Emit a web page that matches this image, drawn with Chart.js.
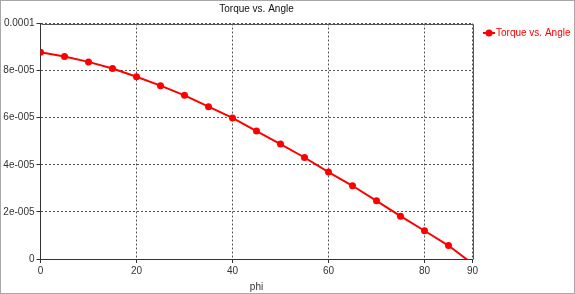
<!DOCTYPE html>
<html>
<head>
<meta charset="utf-8">
<script src="https://cdn.jsdelivr.net/npm/chart.js@4/dist/chart.umd.min.js"></script>
<style>
html,body{margin:0;padding:0;background:#fff;}
#wrap{width:575px;height:294px;box-sizing:border-box;border:1px solid #a8a8a8;background:#fff;}
canvas{display:block;}
</style>
</head>
<body>
<div id="wrap"><canvas id="c" width="573" height="292"></canvas></div>
<script>
const chartTitle = 'Torque vs. Angle';
const seriesName = 'Torque vs. Angle';
const xAxisTitle = 'phi';
const phi = [0,5,10,15,20,25,30,35,40,45,50,55,60,65,70,75,80,85,90];
const torque = [8.78e-5,8.60e-5,8.37e-5,8.09e-5,7.74e-5,7.36e-5,6.95e-5,6.47e-5,5.99e-5,5.43e-5,4.88e-5,4.31e-5,3.69e-5,3.11e-5,2.47e-5,1.82e-5,1.20e-5,0.57e-5,-0.2e-5];
const xTickValues = [0,20,40,60,80,90];
const yTickValues = [0,2e-5,4e-5,6e-5,8e-5,1e-4];
const yTickLabels = ['0','2e-005','4e-005','6e-005','8e-005','0.0001'];

const FONT = "'Liberation Sans', Arial, sans-serif";
const RED = '#ff0000';

const framePlugin = {
  id: 'frame',
  afterDatasetsDraw(chart) {
    const {ctx, chartArea: a} = chart;
    ctx.save();
    ctx.strokeStyle = '#555';
    ctx.lineWidth = 1;
    ctx.beginPath();
    ctx.moveTo(Math.round(a.left) + 0.5, Math.round(a.top) + 0.5);
    ctx.lineTo(Math.round(a.right) + 0.5, Math.round(a.top) + 0.5);
    ctx.lineTo(Math.round(a.right) + 0.5, Math.round(a.bottom) + 0.5);
    ctx.stroke();
    ctx.restore();
  }
};

const legendPlugin = {
  id: 'sideLegend',
  afterDraw(chart) {
    const {ctx, chartArea: a} = chart;
    const ds = chart.data.datasets[0];
    const y = a.top + 9.5;
    const x0 = a.right + 10.5;
    ctx.save();
    ctx.strokeStyle = ds.borderColor;
    ctx.lineWidth = 2;
    ctx.beginPath();
    ctx.moveTo(x0, y);
    ctx.lineTo(x0 + 12, y);
    ctx.stroke();
    ctx.fillStyle = ds.pointBackgroundColor;
    ctx.beginPath();
    ctx.arc(x0 + 6, y, 3.5, 0, Math.PI * 2);
    ctx.fill();
    ctx.font = '10px ' + FONT;
    ctx.textBaseline = 'middle';
    ctx.textAlign = 'left';
    ctx.fillStyle = RED;
    ctx.fillText(ds.label, x0 + 13, y);
    ctx.restore();
  }
};

const gridOpts = {color: '#555', tickColor: '#333', tickBorderDash: [], tickLength: 4, lineWidth: 1};
const borderOpts = {display: true, color: '#333', width: 1, dash: [2, 2]};

new Chart(document.getElementById('c'), {
  type: 'line',
  data: {
    datasets: [{
      label: seriesName,
      data: phi.map((p, i) => ({x: p, y: torque[i]})),
      borderColor: RED,
      backgroundColor: RED,
      pointBackgroundColor: RED,
      pointBorderColor: RED,
      borderWidth: 2,
      pointRadius: (c) => (c.raw && c.raw.y < 0 ? 0 : 3.5),
      pointBorderWidth: 0,
      tension: 0,
      fill: false
    }]
  },
  options: {
    responsive: false,
    devicePixelRatio: 1,
    animation: false,
    events: [],
    layout: {padding: {left: 0, right: 101.5, top: 0, bottom: 0}},
    plugins: {
      legend: {display: false},
      tooltip: {enabled: false},
      title: {
        display: true,
        fullSize: false,
        text: chartTitle,
        color: '#111',
        font: {family: FONT, size: 10, weight: 'normal', lineHeight: 1.2},
        padding: {top: 2, bottom: 8.5}
      }
    },
    scales: {
      x: {
        type: 'linear',
        min: 0, max: 90,
        afterBuildTicks: (s) => { s.ticks = xTickValues.map(v => ({value: v})); },
        afterFit: (s) => { s.height = 34; },
        grid: gridOpts,
        border: borderOpts,
        ticks: {color: '#333', font: {family: FONT, size: 10}, padding: 2, maxRotation: 0, autoSkip: false,
          callback: (v) => String(v)},
        title: {display: true, text: xAxisTitle, color: '#333', font: {family: FONT, size: 10}, padding: {top: 0, bottom: 0}}
      },
      y: {
        type: 'linear',
        min: 0, max: 1e-4,
        afterBuildTicks: (s) => { s.ticks = yTickValues.map(v => ({value: v})); },
        afterFit: (s) => { s.width = 39.5; },
        grid: gridOpts,
        border: borderOpts,
        ticks: {color: '#333', font: {family: FONT, size: 10}, padding: 2,
          callback: (v, i) => yTickLabels[i]}
      }
    }
  },
  plugins: [framePlugin, legendPlugin]
});
</script>
</body>
</html>
